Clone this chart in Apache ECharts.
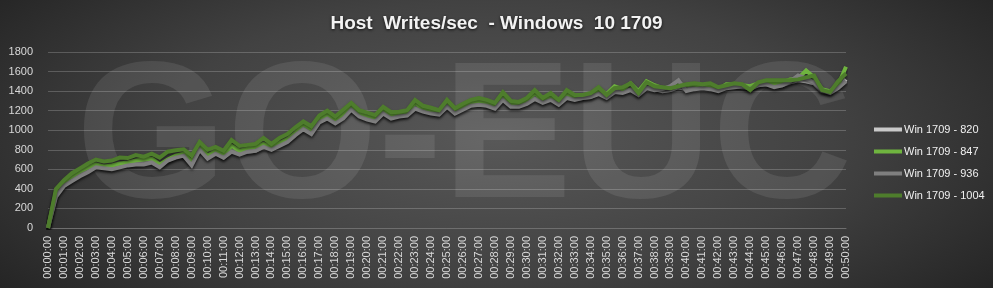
<!DOCTYPE html>
<html>
<head>
<meta charset="utf-8">
<script src="https://cdn.jsdelivr.net/npm/echarts@6/dist/echarts.min.js"></script>
<style>
html,body{margin:0;padding:0;}
#c{width:993px;height:288px;background:radial-gradient(ellipse 68% 95% at 50% 48%, #585858 0%, #424242 50%, #1f1f1f 100%);}
</style>
</head>
<body>
<div id="c"></div>
<script>
// time categories every 30 seconds, 00:00:00 .. 00:50:00
const times = [
"00:00:00","00:00:30","00:01:00","00:01:30","00:02:00","00:02:30","00:03:00","00:03:30","00:04:00","00:04:30",
"00:05:00","00:05:30","00:06:00","00:06:30","00:07:00","00:07:30","00:08:00","00:08:30","00:09:00","00:09:30",
"00:10:00","00:10:30","00:11:00","00:11:30","00:12:00","00:12:30","00:13:00","00:13:30","00:14:00","00:14:30",
"00:15:00","00:15:30","00:16:00","00:16:30","00:17:00","00:17:30","00:18:00","00:18:30","00:19:00","00:19:30",
"00:20:00","00:20:30","00:21:00","00:21:30","00:22:00","00:22:30","00:23:00","00:23:30","00:24:00","00:24:30",
"00:25:00","00:25:30","00:26:00","00:26:30","00:27:00","00:27:30","00:28:00","00:28:30","00:29:00","00:29:30",
"00:30:00","00:30:30","00:31:00","00:31:30","00:32:00","00:32:30","00:33:00","00:33:30","00:34:00","00:34:30",
"00:35:00","00:35:30","00:36:00","00:36:30","00:37:00","00:37:30","00:38:00","00:38:30","00:39:00","00:39:30",
"00:40:00","00:40:30","00:41:00","00:41:30","00:42:00","00:42:30","00:43:00","00:43:30","00:44:00","00:44:30",
"00:45:00","00:45:30","00:46:00","00:46:30","00:47:00","00:47:30","00:48:00","00:48:30","00:49:00","00:49:30",
"00:50:00"];

const win820 = [
0,340,440,500,550,600,640,620,610,630,
650,660,670,690,640,690,730,740,660,820,
730,770,720,790,770,780,790,830,820,860,
890,960,1020,980,1100,1130,1080,1140,1220,1150,
1120,1110,1180,1130,1150,1160,1230,1200,1180,1170,
1250,1180,1220,1260,1270,1260,1230,1320,1250,1250,
1280,1330,1290,1320,1270,1340,1320,1330,1340,1380,
1340,1400,1390,1420,1370,1440,1420,1400,1410,1440,
1420,1430,1440,1430,1410,1440,1450,1440,1430,1460,
1470,1450,1460,1490,1510,1500,1480,1400,1390,1440,
1520];

const win847 = [
0,370,470,530,580,620,650,630,640,660,
670,690,700,710,650,700,740,760,680,830,
740,790,750,840,790,810,830,860,830,870,
910,970,1060,1010,1110,1160,1100,1160,1240,1170,
1140,1120,1200,1150,1160,1180,1280,1220,1200,1190,
1290,1200,1250,1280,1300,1280,1250,1360,1270,1280,
1300,1380,1310,1350,1290,1370,1340,1350,1360,1420,
1370,1450,1420,1480,1400,1500,1460,1430,1440,1470,
1460,1470,1450,1460,1420,1470,1470,1460,1450,1480,
1490,1480,1490,1520,1530,1610,1540,1420,1400,1460,
1650];

const win936 = [
0,320,430,480,530,570,620,610,600,620,
640,650,650,670,620,690,720,740,640,800,
710,760,720,780,750,780,790,830,800,840,
880,950,1010,960,1080,1120,1070,1120,1210,1140,
1110,1090,1170,1120,1140,1150,1220,1190,1170,1160,
1240,1170,1210,1250,1260,1250,1220,1310,1240,1240,
1270,1320,1280,1310,1260,1330,1310,1330,1340,1370,
1330,1390,1380,1410,1360,1430,1410,1420,1450,1510,
1400,1420,1430,1420,1400,1430,1440,1450,1420,1460,
1470,1440,1460,1500,1560,1530,1490,1410,1380,1430,
1500];

const win1004 = [
0,400,490,560,610,660,700,680,690,720,
715,745,730,760,720,780,795,805,740,880,
800,830,790,900,840,850,860,920,860,920,
960,1030,1090,1040,1150,1200,1140,1210,1280,1205,
1180,1155,1240,1185,1190,1205,1310,1250,1230,1205,
1310,1225,1270,1310,1330,1310,1280,1390,1300,1290,
1330,1410,1330,1380,1310,1410,1360,1360,1380,1440,
1360,1430,1440,1480,1380,1490,1450,1440,1430,1450,
1470,1480,1470,1480,1440,1460,1480,1470,1410,1490,
1510,1510,1510,1510,1520,1540,1560,1410,1390,1500,
1580];

const yTicks = [0,200,400,600,800,1000,1200,1400,1600,1800];

const seriesNames = ["Win 1709 - 820","Win 1709 - 847","Win 1709 - 936","Win 1709 - 1004"];
const seriesColors = ["#c9c9c9","#6fb43f","#7f7f7f","#4e7d2c"];
const seriesData = [win820, win847, win936, win1004];

const chart = echarts.init(document.getElementById('c'), null, {renderer:'canvas'});
const font = "'Liberation Sans', Arial, sans-serif";

chart.setOption({
  backgroundColor: 'transparent',
  animation: false,
  title: {
    text: "Host  Writes/sec  - Windows  10 1709",
    left: 'center',
    top: 9,
    textStyle: {
      color: '#f2f2f2',
      fontSize: 19,
      fontWeight: 'bold',
      fontFamily: "'Liberation Sans Narrow', 'Liberation Sans', Arial, sans-serif",
      textShadowColor: 'rgba(0,0,0,0.8)',
      textShadowBlur: 3,
      textShadowOffsetY: 1
    }
  },
  graphic: [{
    type: 'text',
    z: -10,
    silent: true,
    left: 76,
    top: 46,
    style: {
      text: 'GO-EUC',
      fontSize: 194,
      fontWeight: 'bold',
      fontFamily: font,
      fill: 'rgba(255,255,255,0.09)'
    }
  }],
  legend: {
    orient: 'vertical',
    left: 869,
    top: 119,
    itemWidth: 28,
    itemHeight: 4,
    itemGap: 11,
    icon: 'rect',
    textStyle: { color: '#f0f0f0', fontSize: 11, fontFamily: font, padding:[0,0,0,-3] },
    data: seriesNames
  },
  grid: { left: 48, right: 147, top: 52, bottom: 60, containLabel: false },
  xAxis: {
    type: 'category',
    boundaryGap: false,
    data: times,
    axisLine: { lineStyle: { color: '#6e6e6e', width: 1 } },
    axisTick: { show: false },
    axisLabel: {
      interval: 1,
      rotate: 90,
      color: '#d9d9d9',
      fontSize: 11,
      fontFamily: font,
      margin: 8
    },
    splitLine: { show: false }
  },
  yAxis: {
    type: 'value',
    min: yTicks[0],
    max: yTicks[yTicks.length-1],
    interval: 200,
    axisLine: { show: false },
    axisTick: { show: false },
    axisLabel: { color: '#d9d9d9', fontSize: 11, fontFamily: font, margin: 15, formatter: v => String(v) },
    splitLine: { lineStyle: { color: 'rgba(255,255,255,0.2)', width: 1 } }
  },
  series: seriesNames.map((n, i) => ({
    name: n,
    type: 'line',
    data: seriesData[i],
    showSymbol: false,
    symbol: 'none',
    z: 2 + i,
    color: seriesColors[i],
    lineStyle: {
      width: 4,
      color: seriesColors[i],
      shadowColor: 'rgba(0,0,0,0.55)',
      shadowBlur: 3,
      shadowOffsetY: 2,
      join: 'miter'
    }
  }))
});
</script>
</body>
</html>
